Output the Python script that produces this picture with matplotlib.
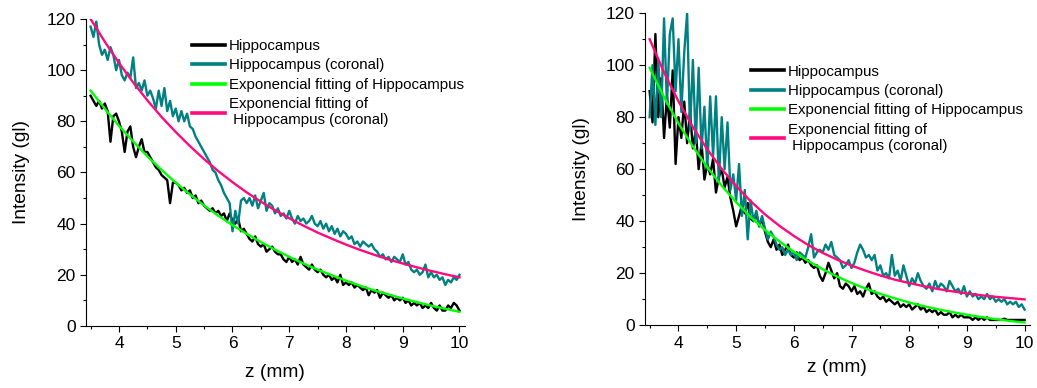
import numpy as np
import matplotlib
matplotlib.use("Agg")
import matplotlib.pyplot as plt
from matplotlib.ticker import MultipleLocator

plt.rcParams['font.family'] = ['Liberation Sans', 'DejaVu Sans']

# noisy profiles sampled every 0.05 mm from 3.5 to 10
z = np.linspace(3.5, 10, 131)

left_hippo = [90, 88, 86, 88, 85, 87, 84, 72, 82, 83, 80, 76, 68, 76, 78, 70, 66, 70, 73, 68,
              68, 66, 64, 62, 61, 59, 58, 57, 48, 56, 56, 55, 53, 54, 52, 53, 50, 51, 48, 49,
              47, 46, 45, 46, 44, 45, 43, 44, 41, 44, 41, 40, 42, 37, 38, 36, 34, 33, 35, 32,
              31, 32, 29, 30, 31, 29, 28, 28, 26, 25, 27, 25, 26, 24, 27, 24, 23, 22, 24, 22,
              21, 22, 20, 19, 20, 18, 19, 17, 20, 16, 17, 16, 17, 15, 16, 15, 14, 15, 12, 14,
              13, 14, 11, 13, 12, 11, 12, 10, 11, 10, 11, 9, 10, 8, 9, 8, 9, 7, 8, 7,
              9, 7, 6, 8, 6, 6, 8, 7, 9, 8, 6]
left_coronal = [117, 113, 119, 110, 106, 108, 104, 109, 106, 100, 104, 98, 96, 99, 97, 105, 93, 95, 92, 96,
                90, 92, 89, 85, 92, 86, 93, 84, 88, 82, 85, 80, 84, 80, 83, 78, 77, 74, 72, 70,
                68, 66, 64, 61, 60, 57, 55, 52, 50, 48, 37, 45, 40, 49, 50, 48, 50, 47, 51, 46,
                49, 52, 45, 48, 47, 44, 46, 43, 44, 42, 45, 42, 40, 43, 41, 42, 40, 41, 43, 40,
                39, 41, 38, 40, 37, 39, 36, 38, 35, 37, 36, 34, 35, 32, 33, 31, 33, 32, 31, 32,
                30, 29, 27, 28, 26, 27, 25, 27, 26, 25, 28, 24, 25, 22, 21, 22, 20, 21, 24, 19,
                21, 19, 20, 18, 19, 16, 18, 17, 19, 18, 20]
right_hippo = [90, 78, 112, 80, 95, 72, 88, 76, 98, 62, 80, 72, 86, 70, 82, 68, 75, 60, 70, 56,
               62, 58, 64, 51, 57, 60, 53, 57, 49, 44, 38, 42, 46, 43, 47, 41, 40, 43, 38, 41,
               36, 32, 30, 33, 29, 31, 27, 29, 31, 27, 26, 28, 25, 26, 24, 25, 23, 22, 23, 19,
               17, 20, 24, 21, 18, 20, 15, 14, 16, 15, 13, 15, 12, 13, 11, 14, 16, 12, 13, 11,
               10, 11, 9, 10, 9, 8, 9, 7, 8, 7, 8, 6, 7, 8, 6, 7, 5, 6, 5, 6,
               4, 5, 4, 4, 5, 3, 4, 3, 4, 3, 3, 3, 2, 3, 2, 3, 2, 3, 2, 2,
               2, 2, 2, 2.5, 2, 2, 2, 2, 2, 2, 2]
right_coronal = [80, 100, 77, 102, 80, 118, 85, 112, 118, 90, 110, 82, 105, 120, 75, 102, 70, 99, 68, 84,
                 60, 88, 65, 88, 55, 80, 60, 78, 52, 58, 48, 62, 42, 52, 33, 48, 40, 44, 38, 42,
                 37, 33, 36, 34, 31, 29, 30, 27, 29, 27, 28, 25, 28, 27, 26, 30, 35, 26, 28, 29,
                 28, 31, 29, 32, 27, 26, 25, 22, 23, 25, 22, 24, 28, 31, 29, 26, 27, 25, 27, 21,
                 23, 19, 20, 18, 27, 19, 21, 17, 23, 19, 15, 18, 16, 20, 17, 15, 14, 16, 13, 17,
                 14, 16, 15, 13, 17, 15, 13, 14, 12, 15, 11, 13, 11, 12, 10, 11, 10, 12, 10, 11,
                 9, 10, 9, 10, 8, 9, 8, 9, 7, 8, 6]

# exponential fit curves sampled every 0.25 mm
z_fit = np.linspace(3.5, 10, 27)
left_fit_hippo = [92, 84.9, 78.2, 72.1, 66.3, 61.0, 56.0, 51.4, 47.1, 43.1, 39.4, 36.0, 32.8, 29.8,
                  27.0, 24.4, 22.0, 19.8, 17.7, 15.7, 13.9, 12.3, 10.7, 9.3, 7.9, 6.7, 5.5]
left_fit_coronal = [120, 111.1, 102.8, 95.2, 88.2, 81.7, 75.8, 70.3, 65.2, 60.5, 56.2, 52.2, 48.6, 45.2,
                    42.1, 39.2, 36.5, 34.1, 31.8, 29.7, 27.8, 26.0, 24.4, 22.9, 21.5, 20.2, 19.0]
right_fit_hippo = [99, 87.7, 77.6, 68.7, 60.7, 53.6, 47.3, 41.6, 36.6, 32.2, 28.2, 24.7, 21.5, 18.7,
                   16.2, 14.0, 12.0, 10.3, 8.7, 7.3, 6.1, 5.0, 4.0, 3.1, 2.3, 1.6, 1.0]
right_fit_coronal = [110, 97.2, 86.1, 76.2, 67.6, 60.1, 53.5, 47.7, 42.6, 38.2, 34.3, 30.8, 27.8, 25.2,
                     22.9, 20.9, 19.1, 17.5, 16.2, 15.0, 13.9, 13.0, 12.2, 11.5, 10.9, 10.4, 9.9]

labels = ['Hippocampus', 'Hippocampus (coronal)', 'Exponencial fitting of Hippocampus',
          'Exponencial fitting of\n Hippocampus (coronal)']
c_black, c_teal, c_green, c_pink = 'black', '#008080', '#00ff00', '#ff0a7f'

fig = plt.figure(figsize=(10.37, 3.88), dpi=100)
ax1 = fig.add_axes([0.083, 0.160, 0.365, 0.791])
ax2 = fig.add_axes([0.622, 0.162, 0.371, 0.804])


def draw(ax, hip, cor, fh, fc, leg_pos, ylpad, xlpad):
    ax.plot(z, hip, color=c_black, lw=1.7, label=labels[0])
    ax.plot(z, cor, color=c_teal, lw=1.7, label=labels[1])
    ax.plot(z_fit, fh, color=c_green, lw=1.7, label=labels[2])
    ax.plot(z_fit, fc, color=c_pink, lw=1.7, label=labels[3])
    ax.set_xlim(3.42, 10.09)
    ax.set_ylim(0, 120)
    ax.xaxis.set_major_locator(MultipleLocator(1))
    ax.xaxis.set_minor_locator(MultipleLocator(0.5))
    ax.yaxis.set_major_locator(MultipleLocator(20))
    ax.yaxis.set_minor_locator(MultipleLocator(10))
    ax.tick_params(which='major', direction='out', length=4.5, width=0.8, labelsize=12.5, pad=3)
    ax.tick_params(which='minor', direction='out', length=2.5, width=0.8)
    for s in ['top', 'right']:
        ax.spines[s].set_visible(False)
    ax.set_xlabel('z (mm)', fontsize=13.8, labelpad=xlpad)
    ax.set_ylabel('Intensity (gl)', fontsize=13.8, labelpad=ylpad)
    leg = ax.legend(loc='upper left', bbox_to_anchor=leg_pos, frameon=False, fontsize=10.8,
                    handlelength=2.2, handletextpad=0.25, labelspacing=0.36, borderaxespad=0,
                    borderpad=0)
    for h in leg.get_lines():
        h.set_linewidth(2.6)


draw(ax1, left_hippo, left_coronal, left_fit_hippo, left_fit_coronal, (0.28, 0.935), 12, 9)
draw(ax2, right_hippo, right_coronal, right_fit_hippo, right_fit_coronal, (0.275, 0.835), 11, 6)

fig.savefig('out.png', dpi=100)
